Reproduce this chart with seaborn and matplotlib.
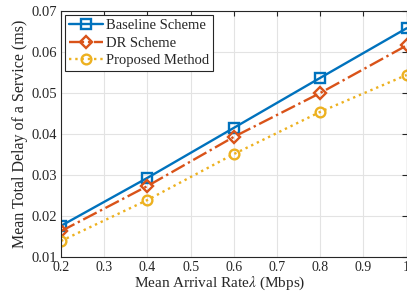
import pandas as pd
import matplotlib
matplotlib.use('Agg')
import matplotlib.pyplot as plt
import seaborn as sns

# values
arrival_rate = [0.2, 0.4, 0.6, 0.8, 1.0]
baseline = [0.0176, 0.0293, 0.0415, 0.0537, 0.0658]
dr_scheme = [0.0163, 0.0273, 0.0393, 0.0500, 0.0616]
proposed = [0.0139, 0.0239, 0.0351, 0.0454, 0.0544]
series_names = ['Baseline Scheme', 'DR Scheme', 'Proposed Method']

df = pd.DataFrame({
    'rate': arrival_rate * 3,
    'delay': baseline + dr_scheme + proposed,
    'scheme': [n for n in series_names for _ in arrival_rate],
})

sns.set_theme(style='whitegrid')
plt.rcParams['font.family'] = ['Liberation Serif', 'DejaVu Serif']
plt.rcParams['mathtext.fontset'] = 'stix'

fig = plt.figure(figsize=(4.07, 2.91), dpi=100)
ax = fig.add_axes([0.150, 0.117, 0.849, 0.845])

styles = {
    'Baseline Scheme': ('#0072BD', 's', '-'),
    'DR Scheme': ('#D95319', 'D', '-.'),
    'Proposed Method': ('#EDB120', 'o', ':'),
}
for name in series_names:
    color, marker, ls = styles[name]
    sns.lineplot(data=df[df['scheme'] == name], x='rate', y='delay', ax=ax,
                 color=color, marker=marker, linestyle=ls, linewidth=1.7,
                 markersize=7 if marker != 'D' else 6,
                 markerfacecolor='none', markeredgecolor=color,
                 markeredgewidth=1.7, label=name)

ax.set_xlim(0.2, 1.0)
ax.set_ylim(0.01, 0.07)
ax.set_xticks([0.2, 0.3, 0.4, 0.5, 0.6, 0.7, 0.8, 0.9, 1.0])
ax.set_xticklabels(['0.2', '0.3', '0.4', '0.5', '0.6', '0.7', '0.8', '0.9', '1'])
ax.set_yticks([0.01, 0.02, 0.03, 0.04, 0.05, 0.06, 0.07])
ax.set_yticklabels(['0.01', '0.02', '0.03', '0.04', '0.05', '0.06', '0.07'])
ax.tick_params(direction='in', length=3.5, width=0.8, colors='#262626',
               labelsize=10.5, top=True, right=True, pad=3)
ax.tick_params(axis='x', labelsize=10, pad=3)
ax.grid(True, color='#e3e3e3', linewidth=0.8)
ax.set_facecolor('white')
for s in ax.spines.values():
    s.set_color('#262626')
    s.set_linewidth(0.8)

ax.set_xlabel(r'Mean Arrival Rate$\lambda$ (Mbps)', fontsize=11, color='#262626')
ax.xaxis.set_label_coords(0.46, -0.074)
ax.set_ylabel('Mean Total Delay of a Service (ms)', fontsize=11.5, labelpad=2, color='#262626')

leg = ax.legend(loc='upper left', fontsize=10.5, frameon=True, fancybox=False,
                edgecolor='#262626', framealpha=1, borderaxespad=0.3,
                handlelength=2.3, handletextpad=0.25, borderpad=0.25,
                labelspacing=0.3)
leg.get_frame().set_linewidth(0.8)

fig.savefig('out.png', dpi=100)
